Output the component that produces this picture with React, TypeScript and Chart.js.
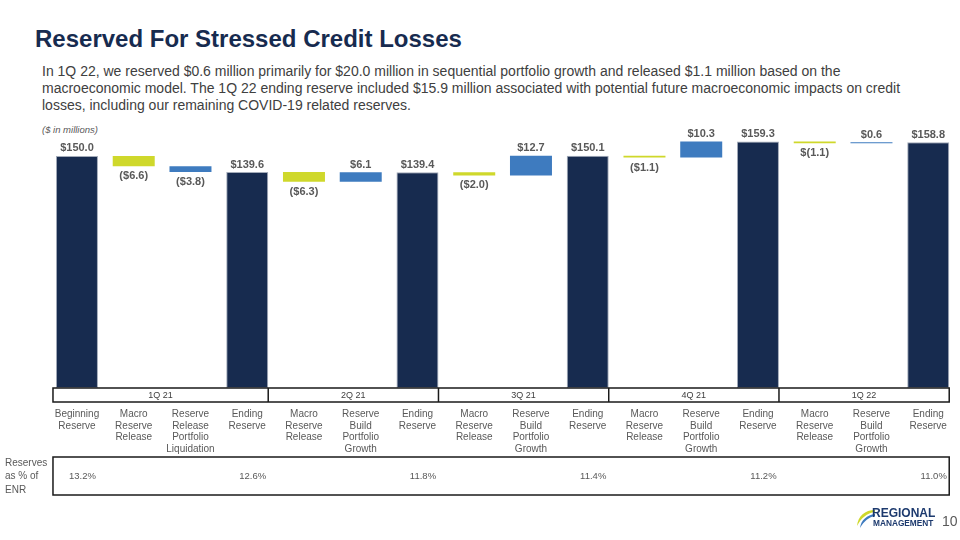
import React, { useEffect, useRef } from "react";
import { Chart, registerables } from "chart.js";

Chart.register(...registerables);

const categories: string[][] = [
  ["Beginning", "Reserve"],
  ["Macro", "Reserve", "Release"],
  ["Reserve", "Release", "Portfolio", "Liquidation"],
  ["Ending", "Reserve"],
  ["Macro", "Reserve", "Release"],
  ["Reserve", "Build", "Portfolio", "Growth"],
  ["Ending", "Reserve"],
  ["Macro", "Reserve", "Release"],
  ["Reserve", "Build", "Portfolio", "Growth"],
  ["Ending", "Reserve"],
  ["Macro", "Reserve", "Release"],
  ["Reserve", "Build", "Portfolio", "Growth"],
  ["Ending", "Reserve"],
  ["Macro", "Reserve", "Release"],
  ["Reserve", "Build", "Portfolio", "Growth"],
  ["Ending", "Reserve"],
];

const changes = [150.0, -6.6, -3.8, 139.6, -6.3, 6.1, 139.4, -2.0, 12.7, 150.1, -1.1, 10.3, 159.3, -1.1, 0.6, 158.8];
const kinds = ["total", "macro", "build", "total", "macro", "build", "total", "macro", "build", "total", "macro", "build", "total", "macro", "build", "total"];
const valueLabels = ["$150.0", "($6.6)", "($3.8)", "$139.6", "($6.3)", "$6.1", "$139.4", "($2.0)", "$12.7", "$150.1", "($1.1)", "$10.3", "$159.3", "$(1.1)", "$0.6", "$158.8"];

const quarters = ["1Q 21", "2Q 21", "3Q 21", "4Q 21", "1Q 22"];
const quarterEnds = [3, 6, 9, 12, 15];

const reservePct = ["13.2%", "12.6%", "11.8%", "11.4%", "11.2%", "11.0%"];
const reservePctIdx = [0, 3, 6, 9, 12, 15];

const kindColors: Record<string, string> = {
  total: "#172b4f",
  macro: "#cfd82b",
  build: "#3e7bbf",
};

const FONT = '"Liberation Sans", Arial, sans-serif';

function buildFloating(): number[][] {
  let run = 0;
  return changes.map((v, i) => {
    if (kinds[i] === "total") {
      run = v;
      return [0, v];
    }
    const s = run;
    run = Math.round((run + v) * 10) / 10;
    return [s, run];
  });
}

const overlayPlugin = {
  id: "overlay",
  afterDatasetsDraw(chart: any) {
    const { ctx, chartArea, scales } = chart;
    const y = scales.y;
    const meta = chart.getDatasetMeta(0);
    const floating = chart.data.datasets[0].data as number[][];
    ctx.save();

    // value labels
    ctx.font = `bold 11px ${FONT}`;
    ctx.fillStyle = "#595959";
    ctx.textAlign = "center";
    ctx.textBaseline = "middle";
    meta.data.forEach((bar: any, i: number) => {
      const [a, b] = floating[i];
      const top = y.getPixelForValue(Math.max(a, b));
      const bottom = y.getPixelForValue(Math.min(a, b));
      const ly = changes[i] >= 0 ? top - 7.5 : bottom + 10;
      ctx.fillText(valueLabels[i], bar.x, ly);
    });

    const half = meta.data[0].width / 2;
    const left = meta.data[0].x - half - 3;
    const right = meta.data[meta.data.length - 1].x + half;

    // quarter band
    const bt = chartArea.bottom;
    const bb = bt + 14;
    ctx.strokeStyle = "#1a1a1a";
    ctx.lineWidth = 1.5;
    ctx.strokeRect(left, bt, right - left, bb - bt);
    ctx.font = `9px ${FONT}`;
    ctx.fillStyle = "#404040";
    let segStart = left;
    quarterEnds.forEach((end, q) => {
      const last = q === quarterEnds.length - 1;
      const segEnd = last ? right : meta.data[end].x + half;
      if (!last) {
        ctx.beginPath();
        ctx.moveTo(segEnd, bt);
        ctx.lineTo(segEnd, bb);
        ctx.stroke();
      }
      ctx.fillText(quarters[q], (segStart + segEnd) / 2, (bt + bb) / 2 + 0.5);
      segStart = segEnd;
    });

    // reserves row
    const rt = 457;
    const rb = 495;
    ctx.strokeRect(left, rt, right - left, rb - rt);
    ctx.font = `9.5px ${FONT}`;
    ctx.fillStyle = "#595959";
    reservePctIdx.forEach((idx, k) => {
      ctx.fillText(reservePct[k], meta.data[idx].x + 5.5, (rt + rb) / 2 + 0.5);
    });
    ctx.textAlign = "left";
    ctx.font = `10px ${FONT}`;
    ["Reserves", "as % of", "ENR"].forEach((t, k) => {
      ctx.fillText(t, 5, 463 + k * 13.7);
    });

    ctx.restore();
  },
};

export default function App() {
  const canvasRef = useRef<HTMLCanvasElement | null>(null);

  useEffect(() => {
    if (!canvasRef.current) return;
    const floating = buildFloating();
    const chart = new Chart(canvasRef.current, {
      type: "bar",
      data: {
        labels: categories,
        datasets: [
          {
            data: floating as any,
            backgroundColor: kinds.map((k) => kindColors[k]),
            borderColor: kinds.map((k) => (k === "total" ? "#a3abb9" : "rgba(0,0,0,0)")),
            borderWidth: kinds.map((k) => (k === "total" ? 1 : 0)),
            borderSkipped: false,
            barPercentage: 0.74,
            categoryPercentage: 1,
          },
        ],
      },
      options: {
        animation: false,
        responsive: true,
        maintainAspectRatio: false,
        layout: { padding: { left: 48.6, right: 3.4, top: 125, bottom: 0 } },
        plugins: {
          legend: { display: false },
          tooltip: { enabled: false },
          title: { display: false },
        },
        scales: {
          x: {
            grid: { display: false, drawTicks: false },
            border: { display: false },
            ticks: {
              autoSkip: false,
              maxRotation: 0,
              minRotation: 0,
              padding: 20.5,
              color: "#595959",
              font: { family: FONT, size: 10, lineHeight: 1.15 },
            },
            afterFit: (scale: any) => {
              scale.height = 152;
              scale.paddingLeft = 0;
              scale.paddingRight = 0;
            },
          },
          y: {
            display: false,
            min: 0,
            max: 170,
          },
        },
      },
      plugins: [overlayPlugin],
    });
    return () => chart.destroy();
  }, []);

  return (
    <div style={{ position: "absolute", left: 0, top: 0, width: 960, height: 540, background: "#fff", overflow: "hidden", fontFamily: FONT }}>
      <div style={{ position: "absolute", left: 35, top: 26.7, fontSize: 24, lineHeight: "24px", fontWeight: "bold", color: "#172b4f", whiteSpace: "nowrap" }}>
        Reserved For Stressed Credit Losses
      </div>
      <div style={{ position: "absolute", left: 42, top: 62.7, fontSize: 14, lineHeight: "17px", color: "#404040", whiteSpace: "nowrap" }}>
        In 1Q 22, we reserved $0.6 million primarily for $20.0 million in sequential portfolio growth and released $1.1 million based on the
        <br />
        macroeconomic model. The 1Q 22 ending reserve included $15.9 million associated with potential future macroeconomic impacts on credit
        <br />
        losses, including our remaining COVID-19 related reserves.
      </div>
      <div style={{ position: "absolute", left: 42, top: 123.5, fontSize: 9.5, lineHeight: "11px", fontStyle: "italic", color: "#595959", whiteSpace: "nowrap" }}>
        ($ in millions)
      </div>
      <div style={{ position: "absolute", left: 0, top: 0, width: 960, height: 540 }}>
        <canvas ref={canvasRef} />
      </div>
      <svg style={{ position: "absolute", left: 855, top: 508 }} width={22} height={22} viewBox="0 0 22 22">
        <path d="M20 2 C10 2 3 8 2 18 C6 10 12 5 20 4 Z" fill="#cfd82b" />
        <path d="M20 6 C12 7 6 12 5 20 C9 13 14 9 20 8 Z" fill="#3e7bbf" />
      </svg>
      <div style={{ position: "absolute", left: 872, top: 507, fontSize: 12, lineHeight: "12px", fontWeight: "bold", color: "#1d3a6e", whiteSpace: "nowrap" }}>
        REGIONAL
      </div>
      <div style={{ position: "absolute", left: 873, top: 518.5, fontSize: 8.3, lineHeight: "9px", fontWeight: "bold", color: "#1d3a6e", whiteSpace: "nowrap" }}>
        MANAGEMENT
      </div>
      <div style={{ position: "absolute", left: 942, top: 513, fontSize: 14, lineHeight: "16px", color: "#595959", whiteSpace: "nowrap" }}>
        10
      </div>
    </div>
  );
}
